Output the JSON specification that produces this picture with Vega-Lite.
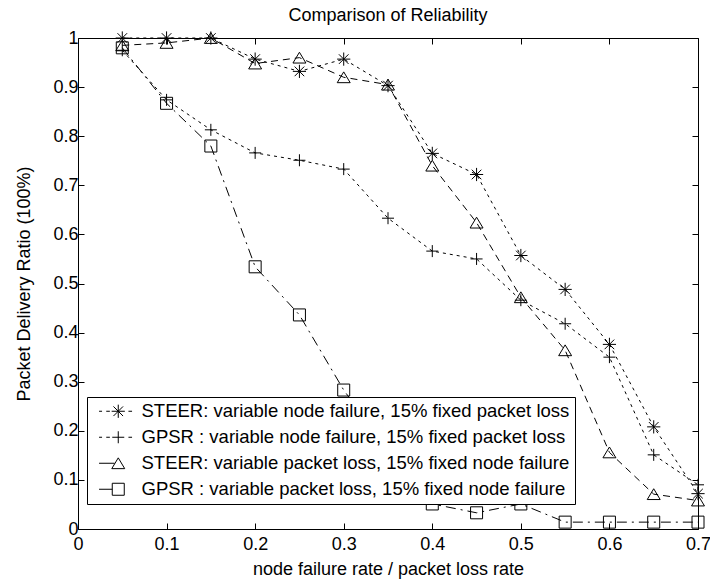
{
  "$schema": "https://vega.github.io/schema/vega-lite/v6.json",
  "width": 620,
  "height": 491,
  "autosize": {"type": "none"},
  "padding": {"left": 78, "top": 38, "right": 12, "bottom": 53},
  "background": "white",
  "title": {"text": "Comparison of Reliability", "font": "Liberation Sans", "fontSize": 18, "fontWeight": "normal", "color": "black", "offset": 12, "dy": 8},
  "data": {"values": [
    {"x": 0.05, "y": 1.0, "s": "STEER: variable node failure, 15% fixed packet loss"},
    {"x": 0.10, "y": 1.0, "s": "STEER: variable node failure, 15% fixed packet loss"},
    {"x": 0.15, "y": 1.0, "s": "STEER: variable node failure, 15% fixed packet loss"},
    {"x": 0.20, "y": 0.957, "s": "STEER: variable node failure, 15% fixed packet loss"},
    {"x": 0.25, "y": 0.932, "s": "STEER: variable node failure, 15% fixed packet loss"},
    {"x": 0.30, "y": 0.957, "s": "STEER: variable node failure, 15% fixed packet loss"},
    {"x": 0.35, "y": 0.903, "s": "STEER: variable node failure, 15% fixed packet loss"},
    {"x": 0.40, "y": 0.765, "s": "STEER: variable node failure, 15% fixed packet loss"},
    {"x": 0.45, "y": 0.722, "s": "STEER: variable node failure, 15% fixed packet loss"},
    {"x": 0.50, "y": 0.557, "s": "STEER: variable node failure, 15% fixed packet loss"},
    {"x": 0.55, "y": 0.488, "s": "STEER: variable node failure, 15% fixed packet loss"},
    {"x": 0.60, "y": 0.376, "s": "STEER: variable node failure, 15% fixed packet loss"},
    {"x": 0.65, "y": 0.208, "s": "STEER: variable node failure, 15% fixed packet loss"},
    {"x": 0.70, "y": 0.072, "s": "STEER: variable node failure, 15% fixed packet loss"},
    {"x": 0.05, "y": 0.975, "s": "GPSR : variable node failure, 15% fixed packet loss"},
    {"x": 0.10, "y": 0.874, "s": "GPSR : variable node failure, 15% fixed packet loss"},
    {"x": 0.15, "y": 0.813, "s": "GPSR : variable node failure, 15% fixed packet loss"},
    {"x": 0.20, "y": 0.766, "s": "GPSR : variable node failure, 15% fixed packet loss"},
    {"x": 0.25, "y": 0.751, "s": "GPSR : variable node failure, 15% fixed packet loss"},
    {"x": 0.30, "y": 0.733, "s": "GPSR : variable node failure, 15% fixed packet loss"},
    {"x": 0.35, "y": 0.633, "s": "GPSR : variable node failure, 15% fixed packet loss"},
    {"x": 0.40, "y": 0.566, "s": "GPSR : variable node failure, 15% fixed packet loss"},
    {"x": 0.45, "y": 0.55, "s": "GPSR : variable node failure, 15% fixed packet loss"},
    {"x": 0.50, "y": 0.466, "s": "GPSR : variable node failure, 15% fixed packet loss"},
    {"x": 0.55, "y": 0.418, "s": "GPSR : variable node failure, 15% fixed packet loss"},
    {"x": 0.60, "y": 0.35, "s": "GPSR : variable node failure, 15% fixed packet loss"},
    {"x": 0.65, "y": 0.151, "s": "GPSR : variable node failure, 15% fixed packet loss"},
    {"x": 0.70, "y": 0.09, "s": "GPSR : variable node failure, 15% fixed packet loss"},
    {"x": 0.05, "y": 0.985, "s": "STEER: variable packet loss, 15% fixed node failure"},
    {"x": 0.10, "y": 0.99, "s": "STEER: variable packet loss, 15% fixed node failure"},
    {"x": 0.15, "y": 1.0, "s": "STEER: variable packet loss, 15% fixed node failure"},
    {"x": 0.20, "y": 0.948, "s": "STEER: variable packet loss, 15% fixed node failure"},
    {"x": 0.25, "y": 0.96, "s": "STEER: variable packet loss, 15% fixed node failure"},
    {"x": 0.30, "y": 0.92, "s": "STEER: variable packet loss, 15% fixed node failure"},
    {"x": 0.35, "y": 0.905, "s": "STEER: variable packet loss, 15% fixed node failure"},
    {"x": 0.40, "y": 0.74, "s": "STEER: variable packet loss, 15% fixed node failure"},
    {"x": 0.45, "y": 0.624, "s": "STEER: variable packet loss, 15% fixed node failure"},
    {"x": 0.50, "y": 0.472, "s": "STEER: variable packet loss, 15% fixed node failure"},
    {"x": 0.55, "y": 0.364, "s": "STEER: variable packet loss, 15% fixed node failure"},
    {"x": 0.60, "y": 0.156, "s": "STEER: variable packet loss, 15% fixed node failure"},
    {"x": 0.65, "y": 0.071, "s": "STEER: variable packet loss, 15% fixed node failure"},
    {"x": 0.70, "y": 0.058, "s": "STEER: variable packet loss, 15% fixed node failure"},
    {"x": 0.05, "y": 0.98, "s": "GPSR : variable packet loss, 15% fixed node failure"},
    {"x": 0.10, "y": 0.867, "s": "GPSR : variable packet loss, 15% fixed node failure"},
    {"x": 0.15, "y": 0.78, "s": "GPSR : variable packet loss, 15% fixed node failure"},
    {"x": 0.20, "y": 0.534, "s": "GPSR : variable packet loss, 15% fixed node failure"},
    {"x": 0.25, "y": 0.436, "s": "GPSR : variable packet loss, 15% fixed node failure"},
    {"x": 0.30, "y": 0.283, "s": "GPSR : variable packet loss, 15% fixed node failure"},
    {"x": 0.35, "y": 0.16, "s": "GPSR : variable packet loss, 15% fixed node failure"},
    {"x": 0.40, "y": 0.051, "s": "GPSR : variable packet loss, 15% fixed node failure"},
    {"x": 0.45, "y": 0.033, "s": "GPSR : variable packet loss, 15% fixed node failure"},
    {"x": 0.50, "y": 0.051, "s": "GPSR : variable packet loss, 15% fixed node failure"},
    {"x": 0.55, "y": 0.014, "s": "GPSR : variable packet loss, 15% fixed node failure"},
    {"x": 0.60, "y": 0.014, "s": "GPSR : variable packet loss, 15% fixed node failure"},
    {"x": 0.65, "y": 0.014, "s": "GPSR : variable packet loss, 15% fixed node failure"},
    {"x": 0.70, "y": 0.014, "s": "GPSR : variable packet loss, 15% fixed node failure"}
  ]},
  "layer": [
    {
      "mark": {"type": "line", "color": "black", "strokeWidth": 1, "strokeCap": "butt"},
      "encoding": {
        "x": {"field": "x", "type": "quantitative", "scale": {"domain": [0, 0.7], "nice": false, "zero": false},
              "axis": {"orient": "bottom", "values": [0, 0.1, 0.2, 0.3, 0.4, 0.5, 0.6, 0.7], "format": "~g", "title": "node failure rate / packet loss rate", "labelPadding": 12, "titlePadding": 7}},
        "y": {"field": "y", "type": "quantitative", "scale": {"domain": [0, 1], "nice": false, "zero": false},
              "axis": {"orient": "left", "values": [0, 0.1, 0.2, 0.3, 0.4, 0.5, 0.6, 0.7, 0.8, 0.9, 1], "format": "~g", "title": "Packet Delivery Ratio (100%)", "labelPadding": 6, "titlePadding": 19}},
        "strokeDash": {"field": "s", "type": "nominal", "legend": null,
              "scale": {"domain": ["STEER: variable node failure, 15% fixed packet loss", "GPSR : variable node failure, 15% fixed packet loss", "STEER: variable packet loss, 15% fixed node failure", "GPSR : variable packet loss, 15% fixed node failure"],
                        "range": [[3, 4], [3, 4], [7, 5], [10, 5, 2, 5]]}}
      }
    },
    {
      "mark": {"type": "point", "filled": false, "color": "black", "strokeWidth": 1, "opacity": 1, "size": 144},
      "encoding": {
        "x": {"field": "x", "type": "quantitative", "axis": {"orient": "top", "values": [0, 0.1, 0.2, 0.3, 0.4, 0.5, 0.6, 0.7], "labels": false, "title": null}},
        "y": {"field": "y", "type": "quantitative", "axis": {"orient": "right", "values": [0, 0.1, 0.2, 0.3, 0.4, 0.5, 0.6, 0.7, 0.8, 0.9, 1], "labels": false, "title": null}},
        "shape": {"field": "s", "type": "nominal", "legend": null,
              "scale": {"domain": ["STEER: variable node failure, 15% fixed packet loss", "GPSR : variable node failure, 15% fixed packet loss", "STEER: variable packet loss, 15% fixed node failure", "GPSR : variable packet loss, 15% fixed node failure"],
                        "range": ["M0,-1.1V1.1M-1.1,0H1.1M-0.8,-0.8L0.8,0.8M-0.8,0.8L0.8,-0.8", "M-1,0H1M0,-1V1", "M0,-0.9L1.08,0.9L-1.08,0.9Z", "M-1,-1H1V1H-1Z"]}}
      }
    },
    {
      "transform": [{"filter": "datum.x > 5"}],
      "mark": {"type": "point", "filled": false, "color": "black", "strokeWidth": 1, "opacity": 1},
      "encoding": {
        "x": {"field": "x", "type": "quantitative", "axis": null},
        "y": {"field": "y", "type": "quantitative", "axis": null},
        "shape": {"field": "s", "type": "nominal", "title": null,
              "scale": {"domain": ["STEER: variable node failure, 15% fixed packet loss", "GPSR : variable node failure, 15% fixed packet loss", "STEER: variable packet loss, 15% fixed node failure", "GPSR : variable packet loss, 15% fixed node failure"],
                        "range": ["M-3.2,0H-2.7M-2,0H-1.4M1.7,0H2.3M0,-1.1V1.1M-1.1,0H1.1M-0.8,-0.8L0.8,0.8M-0.8,0.8L0.8,-0.8", "M-3.2,0H-2.7M-2,0H-1.4M1.7,0H2.3M-1,0H1M0,-1V1", "M-3.2,0H-0.6M0,-0.9L1.08,0.9L-1.08,0.9Z", "M-3.2,0H-1M-1,-1H1V1H-1Z"]},
              "legend": {"orient": "none", "legendX": 9, "legendY": 359, "fillColor": "white", "strokeColor": "black", "padding": 5, "symbolSize": 144, "symbolOffset": 17, "labelOffset": 14, "rowPadding": 7, "labelLimit": 0, "labelFont": "Liberation Sans", "labelFontSize": 18.5, "labelColor": "black", "symbolStrokeColor": "black", "symbolStrokeWidth": 1}}
      }
    }
  ],
  "resolve": {"axis": {"x": "independent", "y": "independent"}, "scale": {"shape": "independent"}},
  "config": {
    "view": {"stroke": "black", "strokeWidth": 1},
    "axis": {"domain": false, "grid": false, "ticks": true, "tickSize": -6, "tickColor": "black", "tickWidth": 1, "labelFlush": false, "labelOverlap": false,
             "labelFont": "Liberation Sans", "labelFontSize": 18, "labelColor": "black",
             "titleFont": "Liberation Sans", "titleFontSize": 18, "titleFontWeight": "normal", "titleColor": "black"}
  }
}
